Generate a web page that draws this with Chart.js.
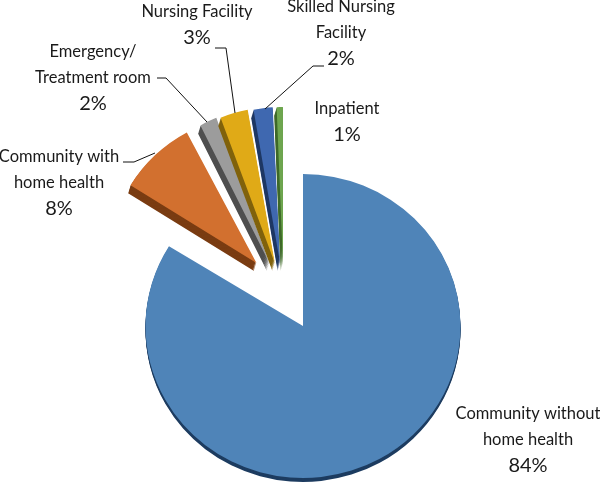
<!DOCTYPE html>
<html>
<head>
<meta charset="utf-8">
<style>
  html, body { margin: 0; padding: 0; background: #fff; }
  #wrap { width: 600px; height: 489px; }
</style>
<script src="https://cdn.jsdelivr.net/npm/chart.js@4"></script>
</head>
<body>
<div id="wrap"><canvas id="myChart" width="600" height="489"></canvas></div>
<script>
const categories = ['Community without home health', 'Community with home health', 'Emergency/ Treatment room', 'Nursing Facility', 'Skilled Nursing Facility', 'Inpatient'];
const shares = [83.8, 8.4, 1.9, 3.0, 2.1, 0.8];
const sliceColors = ['#4f84b8', '#d2702f', '#9c9c9c', '#e0aa17', '#3f68b0', '#6ea64f'];
const sideColors = ['#1d3c60', '#7a3c12', '#4f4f4f', '#80620c', '#1f3864', '#3f6a2a'];

// text lines of each callout, the percent line is added from shares
const calloutLines = [
  ['Community without', 'home health'],
  ['Community with', 'home health'],
  ['Emergency/', 'Treatment room'],
  ['Nursing Facility'],
  ['Skilled Nursing', 'Facility'],
  ['Inpatient']
];
const calloutAnchors = [[528, 414], [59, 157], [93, 52], [197, 12], [341, 7], [347, 109]];
const leaders = [
  null,
  [[123, 162], [134, 162], [155, 153]],
  [[157, 78], [166, 78], [207, 122]],
  [[215, 48], [226, 48], [235, 113]],
  [[324, 66], [313, 66], [265, 109]],
  null
];

const lineGap = 26;
const liftY = -63;
// the picture's 3D view squeezes each slice a bit differently: [x, y] around its tip
const sliceSquash = [[1, 0.965], [0.94, 0.94], [0.93, 0.99], [0.95, 0.99], [0.93, 0.99], [0.8, 0.99]];
const sideDepth = [4, 8, 8, 8, 8, 8];

// Excel's exploded slices don't move quite radially, direction is pulled towards 17deg
function explodeShift(arc, index) {
  if (index === 0) return [0, 0];
  const mid = (arc.startAngle + arc.endAngle) / 2;
  const fromTop = (1.5 * Math.PI - mid) * 180 / Math.PI;
  const dir = (17 + 0.45 * fromTop) * Math.PI / 180;
  return [liftY * Math.tan(dir), liftY];
}

const piePlugin = {
  id: 'explodedPie',
  beforeDatasetDraw(chart, args) {
    const ctx = chart.ctx;
    const arcs = chart.getDatasetMeta(args.index).data;
    arcs.forEach((arc, i) => {
      const shift = explodeShift(arc, i);
      const realOptions = arc.options;
      const drawFace = () => {
        ctx.save();
        ctx.translate(arc.x, arc.y);
        ctx.scale(sliceSquash[i][0], sliceSquash[i][1]);
        ctx.translate(-arc.x, -arc.y);
        arc.draw(ctx);
        ctx.restore();
      };
      ctx.save();
      ctx.translate(shift[0], shift[1]);
      // side wall first, then the top face
      const side = Object.create(realOptions);
      side.backgroundColor = sideColors[i];
      arc.options = side;
      for (let d = sideDepth[i]; d > 0; d--) {
        ctx.save();
        ctx.translate(i === 0 ? 0 : -d * 0.3, d);
        drawFace();
        ctx.restore();
      }
      arc.options = realOptions;
      drawFace();
      ctx.restore();
    });
    return false;
  },
  afterDraw(chart) {
    const ctx = chart.ctx;
    ctx.save();
    ctx.strokeStyle = '#111';
    ctx.lineWidth = 1;
    leaders.forEach(pts => {
      if (!pts) return;
      ctx.beginPath();
      pts.forEach((p, k) => k ? ctx.lineTo(p[0], p[1]) : ctx.moveTo(p[0], p[1]));
      ctx.stroke();
    });
    ctx.fillStyle = '#1a1a1a';
    ctx.textAlign = 'center';
    ctx.textBaseline = 'middle';
    categories.forEach((name, i) => {
      const x = calloutAnchors[i][0];
      let y = calloutAnchors[i][1];
      ctx.font = '16.5px Lato';
      calloutLines[i].forEach(line => {
        ctx.fillText(line, x, y);
        y += lineGap;
      });
      ctx.font = '20px Lato';
      ctx.fillText(Math.round(shares[i]) + '%', x, y);
    });
    ctx.restore();
  }
};

const data = {
  labels: categories,
  datasets: [{
    data: shares,
    backgroundColor: sliceColors,
    borderWidth: 0,
    hoverOffset: 0
  }]
};

const config = {
  type: 'pie',
  data: data,
  options: {
    responsive: false,
    animation: false,
    events: [],
    layout: { padding: { left: 145.5, right: 139.5, top: 168.5, bottom: 5.5 } },
    plugins: { legend: { display: false }, tooltip: { enabled: false } }
  },
  plugins: [piePlugin]
};

const ctx = document.getElementById('myChart').getContext('2d');
const myChart = new Chart(ctx, config);
</script>
</body>
</html>
